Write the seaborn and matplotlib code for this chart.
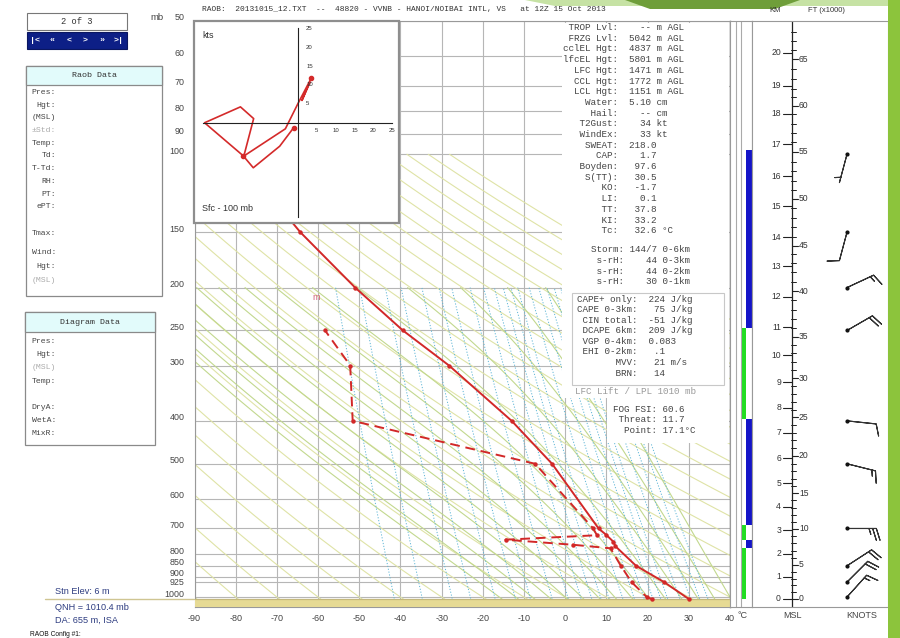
import numpy as np
import pandas as pd
import matplotlib
matplotlib.use("Agg")
import matplotlib.pyplot as plt
import matplotlib.transforms as mtrans
from matplotlib.patches import Rectangle, Polygon
import seaborn as sns

# ---- sounding (Hanoi/Noibai 12Z 15 Oct 2013) ----
temp_p = [1010, 925, 850, 768, 750, 723, 700, 500, 400, 300, 250, 200, 150, 100]
temp_c = [30.0, 24.0, 17.2, 12.2, 11.7, 9.9, 8.1, -3.2, -13.0, -28.2, -39.4, -51.0, -64.3, -80.0]

dewp_p = [1010, 1000, 925, 850, 776, 762, 742, 725, 700, 500, 400, 300, 250]
dewp_c = [21.0, 19.8, 16.1, 13.5, 11.0, 2.0, -14.5, 7.7, 6.8, -7.3, -51.6, -52.2, -58.3]

# hodograph trace (kts), sfc -> 100 mb
hodo_u = [-1.1, -4.8, -11.8, -14.5, -24.7, -15.2, -11.7, -14.3, -3.3, 0.0, 3.5, 1.1, 3.2]
hodo_v = [-1.3, -6.2, -11.9, -8.7, 0.0, 4.2, 1.1, -8.8, -1.6, 5.0, 11.7, 5.9, 10.6]
hodo_dot = [0, 3, 10]

# wind barbs
barb_p = [1000, 925, 850, 700, 500, 400, 250, 200, 150, 100]
barb_dir = [42, 45, 57, 90, 104, 96, 60, 65, 195, 195]
barb_spd = [15, 20, 20, 25, 15, 10, 20, 15, 10, 5]

# moisture strip (green / blue layers, mb)
green_bot = [1010, 742, 396]
green_top = [774, 686, 247]
blue_bot = [774, 686, 247]
blue_top = [742, 396, 98]

# height scale: km MSL vs pressure
km_levels = list(range(22))
km_pres = [1010, 899, 799, 706, 625, 553, 486, 426, 374, 327, 284, 246, 210,
           179, 154, 131, 112, 95, 81, 70, 59, 51]

p_levels = [50, 60, 70, 80, 90, 100, 150, 200, 250, 300, 400, 500, 600, 700,
            800, 850, 900, 925, 1000]
t_ticks = list(range(-90, 41, 10))

stats_top = [("TROP Lvl:", "  -- m AGL"), ("FRZG Lvl:", "5042 m AGL"),
             ("cclEL Hgt:", "4837 m AGL"), ("lfcEL Hgt:", "5801 m AGL"),
             ("LFC Hgt:", "1471 m AGL"), ("CCL Hgt:", "1772 m AGL"),
             ("LCL Hgt:", "1151 m AGL"), ("Water:", "5.10 cm"), ("Hail:", "  -- cm"),
             ("T2Gust:", "  34 kt"), ("WindEx:", "  33 kt"), ("SWEAT:", "218.0"),
             ("CAP:", "  1.7"), ("Boyden:", " 97.6"), ("S(TT):", " 30.5"),
             ("KO:", " -1.7"), ("LI:", "  0.1"), ("TT:", " 37.8"), ("KI:", " 33.2"),
             ("Tc:", " 32.6 °C")]
stats_storm = [("Storm:", "144/7 0-6km"), ("s-rH:", "   44 0-3km"),
               ("s-rH:", "   44 0-2km"), ("s-rH:", "   30 0-1km")]
stats_cape = [("CAPE+ only:", "224 J/kg"), ("CAPE 0-3km:", " 75 J/kg"),
              ("CIN total:", "-51 J/kg"), ("DCAPE 6km:", "209 J/kg"),
              ("VGP 0-4km:", "0.083"), ("EHI 0-2km:", " .1"), ("MVV:", " 21 m/s"),
              ("BRN:", " 14")]
stats_fog = [("FOG FSI:", "60.6"), ("Threat:", "11.7"), ("Point:", "17.1°C")]

raob_items = ["Pres:", "Hgt:", "(MSL)", "±Std:", "Temp:", "Td:", "T-Td:", "RH:", "PT:", "ePT:"]
diag_items = ["Pres:", "Hgt:", "(MSL)", "Temp:", "", "DryA:", "WetA:", "MixR:"]

sns.set_style("white")
plt.rcParams['font.family'] = ['Liberation Sans', 'DejaVu Sans']
MONO = ['Liberation Mono', 'DejaVu Sans Mono']

W, H = 900, 638
fig = plt.figure(figsize=(9, 6.38), dpi=100)
fig.patch.set_facecolor('white')


def fx(x):
    return x / W


def fy(y):
    return 1 - y / H


def prect(x0, y0, x1, y1, z=2, **kw):
    fig.patches.append(Rectangle((fx(x0), fy(y1)), fx(x1) - fx(x0), fy(y0) - fy(y1),
                                 transform=fig.transFigure, zorder=z, **kw))


def ptext(x, y, s, **kw):
    kw.setdefault('va', 'center')
    kw.setdefault('zorder', 5)
    fig.text(fx(x), fy(y), s, **kw)


P_TOP, P_BOT = 50, 1053
Y_TOP, Y_BOT = 21, 607

# ---------------- main diagram ----------------
ax = fig.add_axes([fx(194.5), fy(Y_BOT), fx(730) - fx(194.5), fy(Y_TOP) - fy(Y_BOT)])
ax.set_yscale('log')

# dry adiabats
p_dry = np.exp(np.linspace(np.log(P_BOT), np.log(100), 150))
for th in range(-90, 201, 10):
    t = (th + 273.15) * (p_dry / 1000.0) ** 0.2857 - 273.15
    ax.plot(t, p_dry, color='#dfe3a6', lw=0.8, zorder=1)


def dTdlnp(T, p):
    es = 6.112 * np.exp(17.67 * (T - 273.15) / (T - 29.65))
    rs = 0.622 * es / (p - es)
    return (287.04 * T + 2.501e6 * rs) / (1005.7 + 2.501e6 ** 2 * rs * 0.622 / (287.04 * T ** 2))


def moist(t0, plev):
    T = [t0 + 273.15]
    for i in range(1, len(plev)):
        dl = np.log(plev[i]) - np.log(plev[i - 1])
        k1 = dTdlnp(T[-1], plev[i - 1])
        k2 = dTdlnp(T[-1] + k1 * dl, plev[i])
        T.append(T[-1] + 0.5 * (k1 + k2) * dl)
    return np.array(T) - 273.15


# moist adiabats
p_up = np.exp(np.linspace(np.log(1000), np.log(200), 90))
p_dn = np.exp(np.linspace(np.log(1000), np.log(P_BOT), 6))
for tw in range(-16, 41, 4):
    tu = moist(tw, p_up)
    td = moist(tw, p_dn)
    ax.plot(np.r_[td[::-1], tu], np.r_[p_dn[::-1], p_up], color='#c2d88e', lw=0.8, zorder=1)

# mixing ratio lines
p_w = np.exp(np.linspace(np.log(P_BOT), np.log(200), 60))
for w in [0.1, 0.2, 0.4, 0.6, 1, 1.5, 2, 3, 4, 5, 6, 7, 8, 10, 12, 14, 16, 18, 20, 24, 28, 32, 36]:
    e = (w / 1000) * p_w / (0.622 + w / 1000)
    a = np.log(e / 6.112)
    ax.plot(243.5 * a / (17.67 - a), p_w, color='#5fb6d6', lw=0.7, ls=(0, (1.2, 1.8)), zorder=1)

ax.axhspan(1010, P_BOT, color='#e6da94', zorder=3, lw=0)
ax.axhline(1010, color='#c4b87c', lw=0.9, zorder=3)

prof_t = pd.DataFrame({'t': temp_c, 'p': temp_p})
prof_d = pd.DataFrame({'t': dewp_c, 'p': dewp_p})
sns.lineplot(data=prof_t, x='t', y='p', sort=False, estimator=None, ax=ax, color='#d22828',
             lw=1.4, marker='o', markersize=3.2, markeredgewidth=0, zorder=5)
sns.lineplot(data=prof_d, x='t', y='p', sort=False, estimator=None, ax=ax, color='#d22828',
             lw=1.4, ls=(0, (5, 3)), marker='o', markersize=3.2, markeredgewidth=0, zorder=5)
ax.text(-60.5, 211, 'm', color='#d0607a', fontsize=6.5, ha='center', va='center', zorder=5)

ax.set_yscale('log')
ax.set_ylim(P_BOT, P_TOP)
ax.set_xlim(-90, 40)
ax.set_xticks(t_ticks)
ax.set_xticklabels([str(t) for t in t_ticks])
ax.set_yticks(p_levels)
ax.set_yticklabels([])
ax.yaxis.set_minor_locator(matplotlib.ticker.NullLocator())
ax.set_xlabel('')
ax.set_ylabel('')
ax.grid(True, color='#b6b6b6', lw=0.8)
ax.set_axisbelow(True)
ax.tick_params(axis='y', length=9, width=0.8, color='#b6b6b6', pad=1)
ax.tick_params(axis='x', length=0, pad=5, labelsize=6.5, labelcolor='#444')
for s in ['left', 'bottom', 'top']:
    ax.spines[s].set_color('#999')
    ax.spines[s].set_linewidth(0.8)
ax.spines['right'].set_color('#666')
ax.spines['right'].set_linewidth(1.0)

# pressure labels sit a little above their lines (925 kept on its line)
ylab_tr = mtrans.blended_transform_factory(ax.transAxes, ax.transData)
for p in p_levels:
    dy = 0.0 if p == 925 else 0.03
    tr = ylab_tr + mtrans.ScaledTranslation(0, dy, fig.dpi_scale_trans)
    ax.text(-10 / 535.5, p, str(p), transform=tr, ha='right', va='center',
            fontsize=6.4, color='#444', clip_on=False)

# ---------------- hodograph inset ----------------
axh = fig.add_axes([fx(194), fy(223), fx(399) - fx(194), fy(21) - fy(223)])
axh.set_zorder(4)
axh.set_facecolor('white')
sns.lineplot(x=hodo_u, y=hodo_v, sort=False, estimator=None, ax=axh, color='#d42a2a', lw=1.2)
axh.scatter([hodo_u[i] for i in hodo_dot], [hodo_v[i] for i in hodo_dot], s=9, color='#d42a2a', zorder=5)
axh.set_xlim(-27.5, 26.8)
axh.set_ylim(-26.5, 26.9)
axh.spines['left'].set_position(('data', 0))
axh.spines['bottom'].set_position(('data', 0))
axh.spines['left'].set_bounds(-25, 25)
axh.spines['bottom'].set_bounds(-25, 25)
for s in ['left', 'bottom']:
    axh.spines[s].set_color('#222')
    axh.spines[s].set_linewidth(0.8)
axh.spines['top'].set_visible(False)
axh.spines['right'].set_visible(False)
hk = [k for k in range(-25, 26, 5) if k != 0]
axh.set_xticks(hk)
axh.set_yticks(hk)
axh.set_xticklabels([])
axh.set_yticklabels([])
axh.tick_params(direction='inout', length=5, width=0.8, color='#222')
for k in range(5, 26, 5):
    axh.text(k, -1.4, str(k), fontsize=4.3, ha='center', va='top', color='#333')
    axh.text(2.2, k, str(k), fontsize=4.3, ha='left', va='center', color='#333')
axh.add_patch(Rectangle((0, 0), 1, 1, transform=axh.transAxes, fill=False, ec='#8e8e8e', lw=1.6, clip_on=False))
axh.text(0.04, 0.93, 'kts', transform=axh.transAxes, fontsize=6.5, color='#333', va='center')
axh.text(0.04, 0.07, 'Sfc - 100 mb', transform=axh.transAxes, fontsize=6.5, color='#333', va='center')

# ---------------- moisture strip ----------------
axs = fig.add_axes([fx(730), fy(Y_BOT), fx(752) - fx(730), fy(Y_TOP) - fy(Y_BOT)])
axs.set_yscale('log')
axs.set_ylim(P_BOT, P_TOP)
axs.set_xlim(0, 22)
for gb, gt in zip(green_bot, green_top):
    axs.bar(13.3, gt - gb, bottom=gb, width=5.3, color='#22dd22', lw=0)
for bb, bt in zip(blue_bot, blue_top):
    axs.bar(18.8, bt - bb, bottom=bb, width=5.7, color='#1414c8', lw=0)
for xl in [5.7, 10.7]:
    axs.axvline(xl, color='#aaa', lw=0.8)
axs.set_xticks([])
axs.set_yticks([])
axs.yaxis.set_minor_locator(matplotlib.ticker.NullLocator())
for s in axs.spines.values():
    s.set_color('#999')
    s.set_linewidth(0.8)

# ---------------- height scale + wind barbs ----------------
axr = fig.add_axes([fx(752), fy(Y_BOT), fx(888) - fx(752), fy(Y_TOP) - fy(Y_BOT)])
axr.set_yscale('log')
axr.set_ylim(P_BOT, P_TOP)
axr.set_xlim(0, 136)
axr.set_xticks([])
axr.set_yticks([])
axr.yaxis.set_minor_locator(matplotlib.ticker.NullLocator())
for s in axr.spines.values():
    s.set_color('#999')
    s.set_linewidth(0.8)
XA = 40
axr.plot([XA, XA], [P_BOT, P_TOP], color='#222', lw=0.9)
for k in range(0, 21):
    pk = km_pres[k]
    axr.plot([XA - 9, XA], [pk, pk], color='#222', lw=0.8)
    axr.text(XA - 11, pk, str(k), ha='right', va='center', fontsize=6.2, color='#333')
lp = np.log(km_pres)
for ft in range(0, 69):
    pf = np.exp(np.interp(ft * 0.3048, km_levels, lp))
    if ft % 5 == 0:
        axr.plot([XA, XA + 6], [pf, pf], color='#222', lw=0.8)
        axr.text(XA + 7, pf, str(ft), ha='left', va='center', fontsize=6.2, color='#333')
    else:
        axr.plot([XA - 1.5, XA + 4], [pf, pf], color='#222', lw=0.7)

bd = np.radians(barb_dir)
bu = -np.array(barb_spd) * np.sin(bd)
bv = -np.array(barb_spd) * np.cos(bd)
XB = 95
axr.barbs([XB] * len(barb_p), barb_p, bu, bv, length=6.5, color='#333', lw=0.8,
          sizes=dict(emptybarb=0))
axr.scatter([XB] * len(barb_p), barb_p, s=4, color='#111', zorder=5)

# ---------------- text panel over the diagram ----------------
prect(562, 22.5, 729, 398, z=2, facecolor='white', edgecolor='none')
prect(607, 397, 729, 443, z=2, facecolor='white', edgecolor='none')
prect(572, 293, 724, 385, z=2.5, facecolor='none', edgecolor='#c8c8c8', lw=0.8)

tkw = dict(fontsize=6.7, family=MONO, color='#444', ha='left')
for i, (lab, val) in enumerate(stats_top):
    ptext(563, 27.5 + i * 10.7, f"{lab:>10}  {val}", **tkw)
for i, (lab, val) in enumerate(stats_storm):
    ptext(591, 249.5 + i * 10.75, f"{lab:>6} {val}", **tkw)
for i, (lab, val) in enumerate(stats_cape):
    ptext(577, 299 + i * 10.6, f"{lab:>11}  {val}", **tkw)
ptext(575, 391, 'LFC Lift / LPL 1010 mb', fontsize=6.7, family=MONO, color='#9a9a9a', ha='left')
for i, (lab, val) in enumerate(stats_fog):
    ptext(613, 409 + i * 10.8, f"{lab:>8} {val}", **tkw)

# ---------------- header & labels ----------------
ptext(202, 10, 'RAOB:  20131015_12.TXT  --  48820 - VVNB - HANOI/NOIBAI INTL, VS   at 12Z 15 Oct 2013',
      ha='left', fontsize=5.7, family=MONO, color='#333')
ptext(150, 17, 'mb', ha='left', fontsize=6.8, color='#444')
ptext(775, 10, 'KM', ha='center', fontsize=5.5, color='#333')
ptext(826, 10, 'FT (x1000)', ha='center', fontsize=5.5, color='#333')
ptext(742, 616, '°C', ha='center', fontsize=6.5, color='#444')
ptext(793, 616, 'MSL', ha='center', fontsize=6.5, color='#444')
ptext(862, 616, 'KNOTS', ha='center', fontsize=6.5, color='#444')

# page counter and navigation buttons
prect(27, 13, 127, 30, facecolor='white', edgecolor='#777', lw=0.8)
ptext(77, 21.5, '2 of 3', ha='center', fontsize=6.3, family=MONO, color='#333')
prect(27, 32, 127, 49, facecolor='#0d1f86', edgecolor='#0a1660', lw=0.8)
nav = ['|<', '«', '<', '>', '»', '>|']
for i, s in enumerate(nav):
    x0 = 27 + i * 100 / 6
    if i > 0:
        fig.add_artist(plt.Line2D([fx(x0), fx(x0)], [fy(33), fy(48)], color='#8fa0e0', lw=0.8))
    ptext(x0 + 100 / 12, 40.5, s, ha='center', fontsize=6, family=MONO, color='white', weight='bold')

# Raob Data panel
prect(26, 66, 162, 296, facecolor='white', edgecolor='#8a8a8a', lw=0.9)
prect(26, 66, 162, 85, z=2.1, facecolor='#e2fbfb', edgecolor='#8a8a8a', lw=0.9)
ptext(94, 75.5, 'Raob Data', ha='center', fontsize=6, family=MONO, color='#333')
for i, s in enumerate(raob_items):
    c = '#aaa' if s == '±Std:' else '#444'
    ptext(56, 92.5 + i * 12.7, s, ha='right', fontsize=5.9, family=MONO, color=c)
fig.add_artist(plt.Line2D([fx(27), fx(161)], [fy(224), fy(224)], color='#ccc', lw=0.9))
fig.add_artist(plt.Line2D([fx(27), fx(161)], [fy(244), fy(244)], color='#ccc', lw=0.9))
ptext(56, 233.5, 'Tmax:', ha='right', fontsize=5.9, family=MONO, color='#444')
ptext(56, 253, 'Wind:', ha='right', fontsize=5.9, family=MONO, color='#444')
ptext(56, 266.5, 'Hgt:', ha='right', fontsize=5.9, family=MONO, color='#444')
ptext(56, 280, '(MSL)', ha='right', fontsize=5.9, family=MONO, color='#aaa')

# Diagram Data panel
prect(25, 312, 155, 445, facecolor='white', edgecolor='#8a8a8a', lw=0.9)
prect(25, 312, 155, 332, z=2.1, facecolor='#e2fbfb', edgecolor='#8a8a8a', lw=0.9)
ptext(90, 322, 'Diagram Data', ha='center', fontsize=6, family=MONO, color='#333')
for i, s in enumerate(diag_items):
    c = '#aaa' if s == '(MSL)' else '#444'
    ptext(56, 341.5 + i * 13.2, s, ha='right', fontsize=5.9, family=MONO, color=c)

# station info
fig.add_artist(plt.Line2D([fx(45), fx(194)], [fy(599), fy(599)], color='#cfc592', lw=1.0))
ptext(55, 591, 'Stn Elev: 6 m', ha='left', fontsize=6.6, color='#2d3c80')
ptext(55, 607, 'QNH = 1010.4 mb', ha='left', fontsize=6.6, color='#2d3c80')
ptext(55, 620, 'DA: 655 m, ISA', ha='left', fontsize=6.6, color='#2d3c80')
ptext(30, 634, 'RAOB Config #1:', ha='left', fontsize=4.8, color='#111')

# slide decoration (green)
fig.patches.append(Polygon([(fx(525), fy(0)), (fx(900), fy(0)), (fx(900), fy(6)), (fx(555), fy(6))],
                           closed=True, transform=fig.transFigure, facecolor='#c6e2a4', edgecolor='none', zorder=1))
fig.patches.append(Polygon([(fx(625), fy(0)), (fx(800), fy(0)), (fx(775), fy(9)), (fx(650), fy(9))],
                           closed=True, transform=fig.transFigure, facecolor='#6f9e3a', edgecolor='none', zorder=1))
prect(888, 0, 900, 638, z=1, facecolor='#8cc43c', edgecolor='none')

fig.savefig('out.png', dpi=100, facecolor='white')
